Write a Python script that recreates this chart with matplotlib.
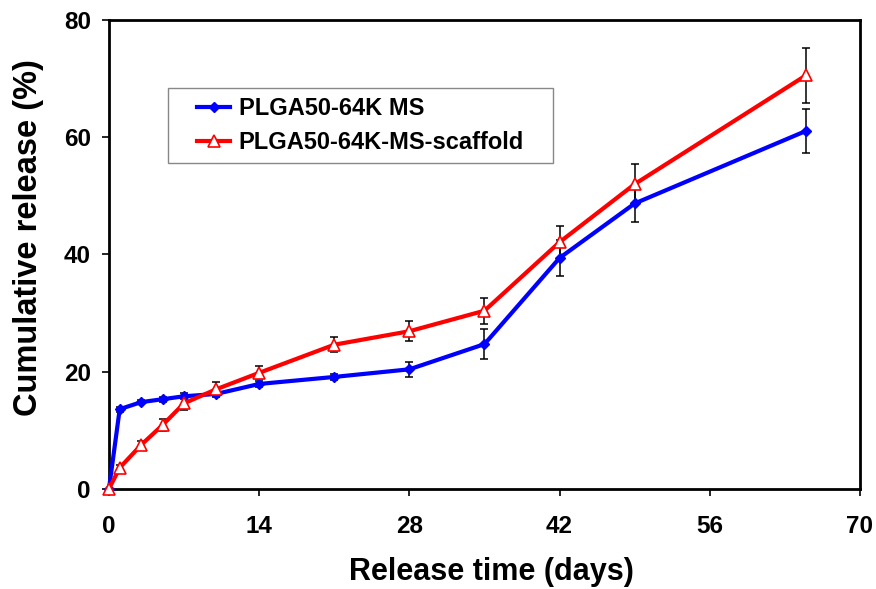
import matplotlib.pyplot as plt
from matplotlib.patches import Rectangle

# Release data (days, cumulative % released, SD)
days = [0, 1, 3, 5, 7, 10, 14, 21, 28, 35, 42, 49, 65]
ms_release = [0, 13.6, 14.8, 15.3, 15.8, 16.2, 17.9, 19.1, 20.4, 24.7, 39.4, 48.7, 61.1]
ms_err = [0, 0.4, 0.4, 0.4, 0.5, 0.5, 0.5, 0.5, 1.3, 2.6, 3.1, 3.1, 3.8]
scaffold_release = [0, 3.6, 7.5, 10.9, 14.6, 17.0, 19.8, 24.6, 26.9, 30.4, 42.1, 52.0, 70.6]
scaffold_err = [0, 0.5, 0.7, 1.0, 1.1, 1.2, 1.1, 1.3, 1.7, 2.2, 2.8, 3.5, 4.7]
x_ticks = [0, 14, 28, 42, 56, 70]
y_ticks = [0, 20, 40, 60, 80]

plt.rcParams['font.family'] = ['Liberation Sans', 'DejaVu Sans']

fig = plt.figure(figsize=(8.76, 5.89), dpi=100)
ax = fig.add_axes([0.1244, 0.170, 0.8573, 0.796])

# error bars first, then the lines with markers on top
ax.errorbar(days, ms_release, yerr=ms_err, fmt='none', ecolor='black',
            elinewidth=1.1, capsize=3, capthick=1.1, zorder=2)
ax.errorbar(days, scaffold_release, yerr=scaffold_err, fmt='none', ecolor='black',
            elinewidth=1.1, capsize=3, capthick=1.1, zorder=2)
ax.plot(days, ms_release, color='#0000ff', lw=3, marker='D', ms=5.5,
        label='PLGA50-64K MS', zorder=3, clip_on=False)
ax.plot(days, scaffold_release, color='#ff0000', lw=3, marker='^', ms=9,
        mfc='white', mec='#ff0000', mew=1.2,
        label='PLGA50-64K-MS-scaffold', zorder=4, clip_on=False)

ax.set_xlim(0, 70)
ax.set_ylim(0, 80)
ax.set_xticks(x_ticks)
ax.set_yticks(y_ticks)
ax.tick_params(direction='out', length=5, width=1.2, labelsize=17.5)
ax.tick_params(axis='x', pad=14)
ax.tick_params(axis='y', pad=8)
for lbl in ax.get_xticklabels() + ax.get_yticklabels():
    lbl.set_fontweight('bold')
for sp in ax.spines.values():
    sp.set_linewidth(2)

ax.set_xlabel('Release time (days)', fontsize=22, fontweight='bold')
ax.set_ylabel('Cumulative release (%)', fontsize=23.5, fontweight='bold')
ax.xaxis.set_label_coords(0.509, -0.145)
ax.yaxis.set_label_coords(-0.087, 0.537)

# legend box drawn separately so the padding can be wider than it is tall
ax.add_patch(Rectangle((0.0786, 0.695), 0.5126, 0.160, transform=ax.transAxes,
                       facecolor='white', edgecolor='#888888', lw=1, zorder=5))
leg = ax.legend(loc='center', bbox_to_anchor=(0.335, 0.775),
                prop={'weight': 'bold', 'size': 17}, frameon=False,
                handlelength=1.4, handletextpad=0.35, labelspacing=0.45,
                borderpad=0, borderaxespad=0)
leg.set_zorder(6)

fig.savefig('out.png', dpi=100)
